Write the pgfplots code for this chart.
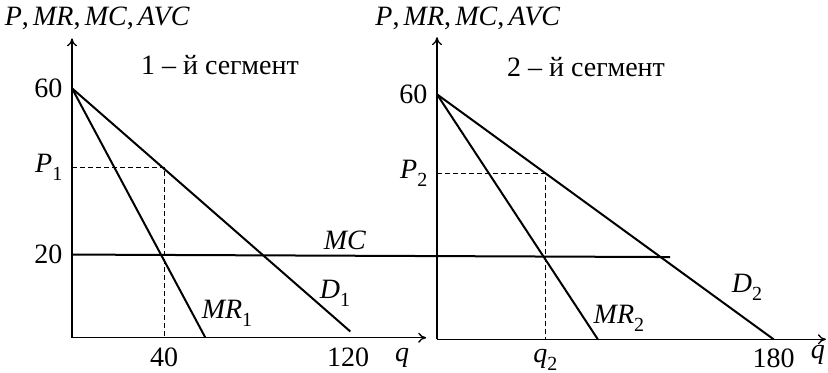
\documentclass[border=0pt]{standalone}
\usepackage{fontspec}
\setmainfont{Liberation Serif}
\usepackage{pgfplots}
\pgfplotsset{compat=1.18}
\usetikzlibrary{arrows.meta}

\newcommand{\vr}[2]{\textit{#1}\raisebox{-0.28em}{\fontsize{10}{12}\selectfont #2}}
\newcommand{\ylab}{\textit{P},\hspace{0.15em}\textit{MR},\hspace{0.15em}\textit{MC},\hspace{0.15em}\textit{AVC}}

\pgfplotsset{
  econ/.style={axis lines=left, enlargelimits=false, clip=false, anchor=south west,
    axis line style={line width=0.65pt,-{To[length=4pt,width=5pt]}},
    major tick length=0, no markers,
    tick label style={font=\fontsize{14}{16}\selectfont}},
  curve/.style={black,line width=1pt},
  guide/.style={black,line width=0.45pt,dash pattern=on 2.5pt off 1.5pt},
}

\begin{document}
\fontsize{14}{16}\selectfont
\begin{tikzpicture}[font=\fontsize{14}{16}\selectfont]
\useasboundingbox (0,0) rectangle (414pt,186pt);

% first segment
\begin{axis}[econ, at={(36pt,17.15pt)}, x=1.15pt, y=2.0785pt,
  xmin=0, xmax=154, ymin=0, ymax=72,
  xtick={40,120}, xticklabels={40,120},
  ytick={20,41,60}, yticklabels={20,\vr{P}{1},60}]
  \addplot[curve] coordinates {(0,60) (121,1.5)};
  \addplot[curve] coordinates {(0,60) (58,0)};
  \addplot[curve] coordinates {(0,20) (260,19.4)};
  \addplot[guide] coordinates {(0,41) (40,41) (40,0)};
  \node at (11,76.9) {\ylab};
  \node at (64.3,65.6) {1 – й сегмент};
  \node at (118.7,23.5) {\textit{MC}};
  \node at (114.3,10.7) {\vr{D}{1}};
  \node at (67.4,5.9) {\vr{MR}{1}};
  \node at (143.5,-4.9) {\textit{q}};
\end{axis}

% second segment
\begin{axis}[econ, at={(218.5pt,16.35pt)}, x=0.935pt, y=2.0415pt,
  xmin=0, xmax=208, ymin=0, ymax=74,
  xtick={58,180}, xticklabels={\vr{q}{2},180},
  ytick={40.7,60}, yticklabels={\vr{P}{2},60}]
  \addplot[curve] coordinates {(0,60) (180,0)};
  \addplot[curve] coordinates {(0,60) (86,0)};
  \addplot[guide] coordinates {(0,40.7) (58,40.7) (58,0)};
  \node at (16.5,78.7) {\ylab};
  \node at (79.7,66.7) {2 – й сегмент};
  \node at (165.8,12.8) {\vr{D}{2}};
  \node at (97.3,5.2) {\vr{MR}{2}};
  \node at (203.7,-3.9) {\textit{q}};
\end{axis}
\end{tikzpicture}
\end{document}
